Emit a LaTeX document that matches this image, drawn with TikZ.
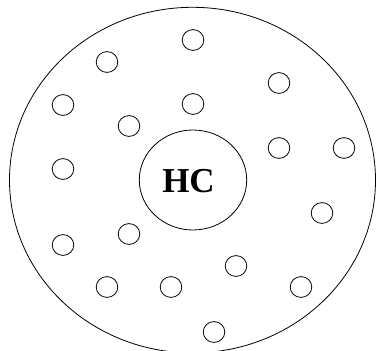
\documentclass[tikz,border=0pt]{standalone}
\usepackage{fontspec}
\setmainfont{Liberation Serif}
\begin{document}
\begin{tikzpicture}[x=1pt,y=-1pt,
  ring/.style={draw=black,line width=0.8pt}]
\useasboundingbox (0,0) rectangle (376,351);
\clip (0,0) rectangle (376,351);
\draw[ring] (192.5,180.1) ellipse [x radius=183, y radius=172.8];
\draw[ring] (193,180) ellipse [x radius=53.7, y radius=50];
\node[font=\bfseries\fontsize{35}{35}\selectfont,inner sep=0pt] (hc) at (188.5,181.5) {HC};
\foreach \i/\x/\y in {1/193/40,2/107/62,3/279/83,4/63/105,5/193/104,6/129/126,7/279/148,8/344/148,9/63/169,10/322/213,11/129/234,12/63/245,13/236/266,14/107/287,15/171/287,16/301/287,17/214/332}
  \draw[ring] (\x,\y) ellipse [x radius=10.8, y radius=10.4];
\end{tikzpicture}
\end{document}
